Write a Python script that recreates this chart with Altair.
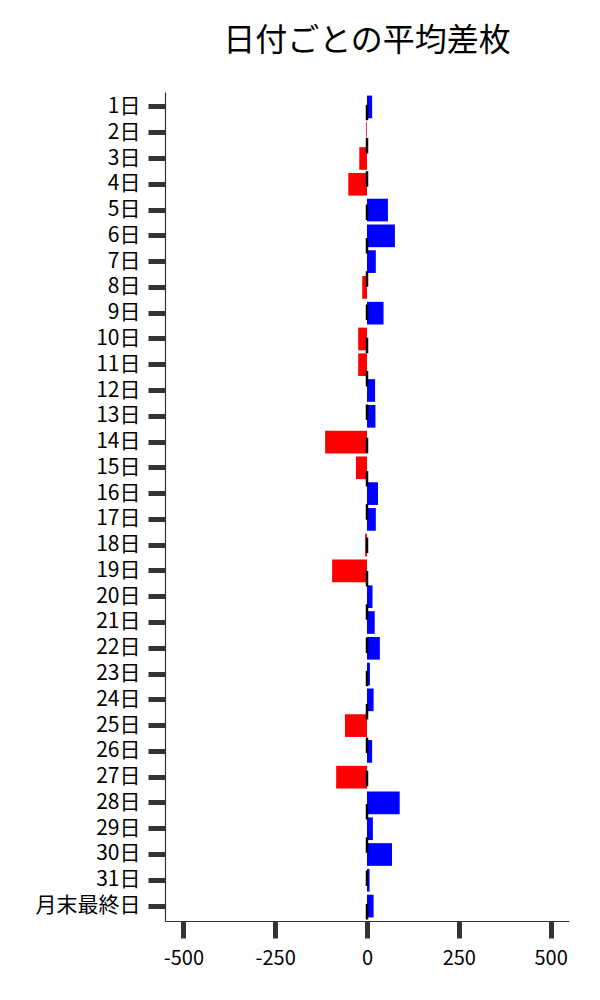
import altair as alt
import pandas as pd

days = [f"{i}日" for i in range(1, 32)] + ["月末最終日"]
values = [14, -2, -21, -51, 57, 76, 24, -13, 45, -24, -24, 22, 23, -114, -30, 30,
          24, -5, -95, 15, 21, 35, 8, 18, -60, 14, -84, 89, 16, 68, 7, 18]

df = pd.DataFrame({"day": days, "value": values})
df["color"] = ["blue" if v >= 0 else "red" for v in values]

FONT = "Noto Sans CJK JP"

bars = alt.Chart(df).mark_bar().encode(
    y=alt.Y("day:N", sort=days,
            scale=alt.Scale(paddingInner=0.12, paddingOuter=0.14),
            axis=alt.Axis(title=None, labelFontSize=21, labelFont=FONT, labelColor="black",
                          tickSize=17, tickWidth=5, tickColor="#333333",
                          domainColor="#333333", domainWidth=1.2, labelPadding=8,
                          grid=False)),
    x=alt.X("value:Q", scale=alt.Scale(domain=[-550, 550], nice=False, zero=False),
            axis=alt.Axis(title=None, values=[-500, -250, 0, 250, 500], labelFontSize=20,
                          labelFont=FONT, labelColor="black", tickSize=17, tickWidth=5,
                          tickColor="#333333", domainColor="#333333", domainWidth=1.2,
                          labelPadding=10, grid=False,
                          labelExpr="datum.value + ''")),
    color=alt.Color("color:N", scale=None),
)

zero_rule = alt.Chart(pd.DataFrame({"z": [0]})).mark_rule(
    color="black", strokeWidth=2.5, strokeDash=[15.5, 17.8], strokeDashOffset=20.6
).encode(x="z:Q")

chart = (bars + zero_rule).properties(
    width=404, height=829,
    title=alt.TitleParams("日付ごとの平均差枚", font=FONT, fontSize=32, fontWeight="normal",
                          color="black", anchor="middle", offset=33),
    autosize=alt.AutoSizeParams(type="none"),
    padding={"left": 157, "top": 84, "right": 23, "bottom": 71},
).configure_view(stroke=None)

chart.save("out.html", embed_options={"renderer": "svg", "actions": False})
